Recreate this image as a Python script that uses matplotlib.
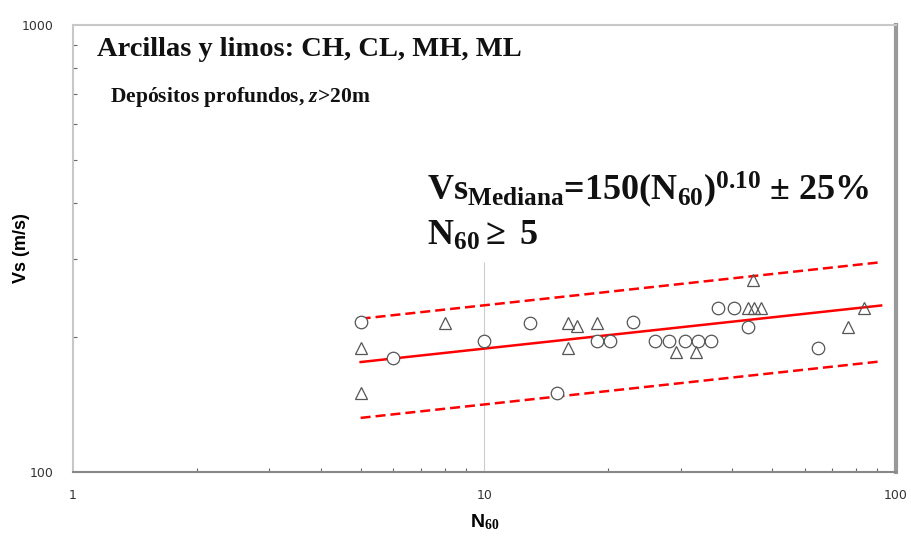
import matplotlib.pyplot as plt
import numpy as np

plt.rcParams['mathtext.fontset'] = 'custom'
plt.rcParams['mathtext.rm'] = 'Liberation Serif:bold'
plt.rcParams['mathtext.it'] = 'Liberation Serif:italic:bold'
plt.rcParams['mathtext.bf'] = 'Liberation Serif:bold'

# datos
n_circ = [5, 6, 10, 12.9, 15, 18.8, 20.2, 23, 26, 28, 30.7, 33, 35.5, 37, 40.4, 43.6, 64.6]
vs_circ = [217, 180, 196, 215, 150, 196, 196, 217, 196, 196, 196, 196, 196, 233, 233, 211, 189]
n_tri = [5, 5, 8, 16, 16.8, 16, 18.8, 29.2, 32.6, 43.6, 45.2, 47, 45, 76.4, 83.6]
vs_tri = [189, 150, 215, 215, 212, 189, 215, 186, 186, 233, 233, 233, 269, 211, 233]

a, b = 150, 0.10
n_fit = np.array([5, 92])
vs_fit = a * n_fit ** b

fig = plt.figure(figsize=(9.12, 5.43), dpi=100)
ax = fig.add_axes([73 / 912, 1 - 472 / 543, (896 - 73) / 912, (472 - 25) / 543])
ax.set_xscale('log')
ax.set_yscale('log')
ax.set_xlim(1, 100)
ax.set_ylim(100, 1000)

ax.vlines(10, 100, 295, color='#cccccc', lw=0.8, zorder=0)

ax.plot(n_fit, vs_fit, color='red', lw=1.8, zorder=2)
ax.plot(n_fit, vs_fit * 1.25, color='red', lw=1.8, ls=(0, (4, 2)), zorder=2)
ax.plot(n_fit, vs_fit * 0.75, color='red', lw=1.8, ls=(0, (4, 2)), zorder=2)

ax.plot(n_circ, vs_circ, 'o', ms=9, mfc='white', mec='#555555', mew=0.9, zorder=3)
ax.plot(n_tri, vs_tri, '^', ms=9, mfc='none', mec='#555555', mew=0.9, zorder=3)

for s in ['left', 'top']:
    ax.spines[s].set_color('#c8c8c8')
    ax.spines[s].set_linewidth(1.5)
ax.spines['bottom'].set_color('#888888')
ax.spines['bottom'].set_linewidth(1.5)
ax.spines['right'].set_color('#999999')
ax.spines['right'].set_linewidth(3)

ax.tick_params(which='both', direction='in', colors='#666666', labelcolor='#333333',
               labelsize=9, length=3, width=0.8)
ax.tick_params(which='major', length=0)
ax.tick_params(axis='x', pad=12)
ax.tick_params(axis='y', pad=14)
ax.set_xticks([1, 10, 100])
ax.set_xticklabels(['1', '10', '100'])
ax.set_yticks([100, 1000])
ax.set_yticklabels(['100', '1000'])
ax.yaxis.set_minor_formatter(plt.NullFormatter())
ax.xaxis.set_minor_formatter(plt.NullFormatter())

ax.set_ylabel('Vs (m/s)', fontsize=13, fontweight='bold', family='Liberation Sans')
ax.yaxis.set_label_coords((30 - 73) / 823, 0.5)
ax.set_xlabel(r'N$_{60}$', fontsize=14, fontweight='bold', family='Liberation Sans')
ax.xaxis.set_label_coords(0.5, -(512 - 472) / 447)

ax.text(97 / 912, 1 - 50 / 543, 'Arcillas y limos: CH, CL, MH, ML', transform=fig.transFigure,
        fontsize=20.5, fontweight='bold', family='Liberation Serif', va='center', color='#111111')
ax.text(110 / 912, 1 - 97 / 543, r'Depósitos profundos, $\mathit{z}$>20m', transform=fig.transFigure,
        fontsize=15.5, fontweight='bold', family='Liberation Serif', va='center', color='#111111')
ax.text(427 / 912, 1 - 190 / 543,
        r'Vs$_{\mathrm{Mediana}}$=150(N$_{\mathrm{60}}$)$^{\mathrm{0.10}}$ $\pm$ 25%',
        transform=fig.transFigure, fontsize=26, fontweight='bold', family='Liberation Serif',
        va='center', color='#111111')
ax.text(427 / 912, 1 - 236 / 543, r'N$_{\mathrm{60}}$$\geq$ 5', transform=fig.transFigure,
        fontsize=26, fontweight='bold', family='Liberation Serif', va='center', color='#111111')

fig.savefig('out.png', dpi=100)
